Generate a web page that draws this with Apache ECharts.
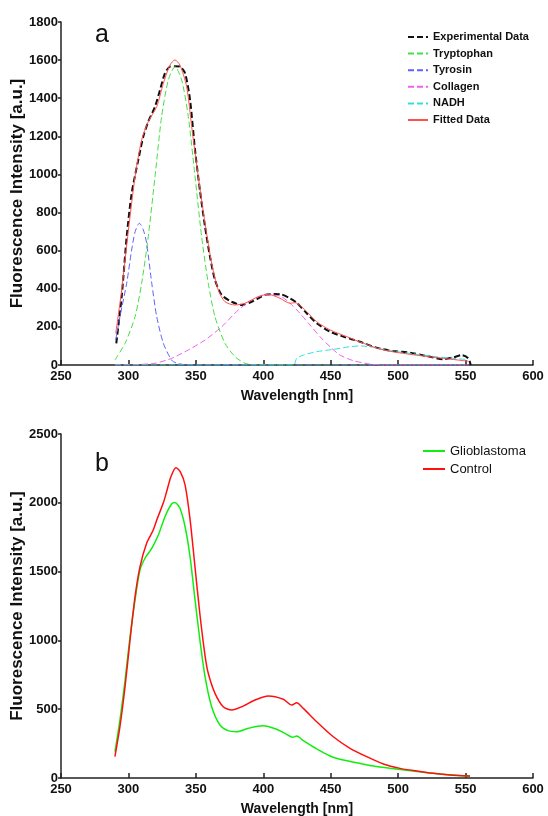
<!DOCTYPE html>
<html>
<head>
<meta charset="utf-8">
<script src="https://cdn.jsdelivr.net/npm/echarts@6/dist/echarts.min.js"></script>
<style>
  html, body { margin: 0; padding: 0; background: #ffffff; }
  #chart { width: 548px; height: 816px; }
</style>
</head>
<body>
<div id="chart"></div>
<script>
// Axis ticks
const wavelengthTicks = [250, 300, 350, 400, 450, 500, 550, 600];
const intensityTicksA = [0, 200, 400, 600, 800, 1000, 1200, 1400, 1600, 1800];
const intensityTicksB = [0, 500, 1000, 1500, 2000, 2500];

// Panel a: measured emission spectrum
const expWl  = [291, 295, 298.7, 302.4, 307.3, 311, 314.7, 319.7, 323.4, 327.1, 330.8, 334.5, 338.2, 342, 345.7, 349.4, 353, 356.8, 360.5, 364.2, 369.2, 376.6, 384, 391.4, 401.3, 408, 413, 419.8, 424.8, 432.2, 439.6, 449.5, 459.3, 471.7, 484, 496.4, 508.8, 521.2, 533.5, 540.9, 547.1, 552, 553.8];
const expVal = [114, 358, 673, 901, 1076, 1198, 1277, 1356, 1443, 1531, 1566, 1568, 1566, 1531, 1391, 1128, 918, 726, 568, 446, 367, 332, 315, 332, 368, 372, 371, 350, 327, 271, 219, 175, 149, 122, 91, 73, 65, 47, 30, 40, 52, 35, 0];

// Panel a: fitted fluorophore components
const trpWl  = [290, 297.5, 304.9, 309.8, 314.7, 319.7, 324.6, 329.6, 334.5, 339.5, 344.4, 349.4, 354.3, 359.2, 364.2, 371.6, 379, 386.4, 395, 420, 460, 500, 552];
const trpVal = [26, 114, 253, 429, 673, 988, 1303, 1496, 1566, 1496, 1303, 988, 673, 429, 253, 114, 44, 9, 0, 0, 0, 0, 0];

const tyrWl  = [290.5, 293.7, 298.7, 302.4, 305, 308.1, 311, 313.5, 317.3, 321, 325.9, 332, 336, 345, 400, 552];
const tyrVal = [130, 253, 429, 604, 700, 744, 710, 639, 429, 253, 114, 26, 9, 0, 0, 0];

const colWl  = [290, 305, 319.7, 332, 344.4, 356.8, 369.2, 381.5, 391.4, 401.3, 412.4, 419.8, 427.2, 434.6, 442, 449.5, 456.9, 466.7, 479, 490, 552];
const colVal = [0, 2, 9, 35, 79, 131, 201, 289, 341, 367, 362, 324, 271, 210, 149, 96, 52, 23, 5, 0, 0];

const nadhWl  = [290, 422.3, 424.8, 429.7, 439.6, 451.9, 464.3, 471.7, 481.6, 489, 496.4, 510, 530, 552];
const nadhVal = [0, 0, 35, 52, 70, 82, 96, 100, 93, 82, 73, 60, 42, 28];

// Panel a: sum of the fitted components
const fitWl  = [290.6, 295, 300, 304.9, 309.8, 314.7, 321, 325.9, 330.8, 334.5, 338.2, 343.2, 346.9, 351.8, 356.8, 361.7, 366.6, 371.6, 379, 386.4, 396.3, 403.7, 412.4, 419.8, 423.5, 432.2, 439.6, 449.5, 461.8, 474.2, 489, 503.8, 518.7, 533.5, 548.3, 552];
const fitVal = [166, 394, 708, 988, 1181, 1277, 1356, 1478, 1574, 1601, 1574, 1460, 1251, 988, 744, 534, 394, 332, 315, 324, 359, 371, 350, 324, 327, 280, 227, 184, 149, 114, 79, 61, 47, 35, 23, 20];

// Panel b: mean spectra of tumour and control tissue
const gbmWl  = [290, 293.7, 297.5, 301.2, 304.9, 308.6, 312.3, 317.3, 322.2, 327.1, 332, 334.5, 338.2, 342, 345.7, 349.4, 353, 356.8, 361.7, 367.9, 374, 380.3, 388.9, 399.5, 409.9, 417.3, 421.8, 424.8, 429.7, 439.6, 449.5, 456.9, 469.3, 481.6, 494, 506.3, 518.7, 531, 543.4, 553.3];
const gbmVal = [191, 421, 712, 1027, 1294, 1512, 1597, 1669, 1766, 1899, 1991, 2003, 1960, 1826, 1608, 1294, 1003, 736, 518, 385, 344, 337, 361, 379, 354, 317, 296, 305, 271, 211, 160, 136, 111, 87, 70, 56, 41, 29, 20, 12];

const ctrlWl  = [290, 293.7, 297.5, 301.2, 304.9, 308.6, 313.5, 318.4, 321, 325.9, 328.3, 331.5, 335.3, 338.5, 342, 345.7, 349.4, 353, 356.8, 359.2, 364.2, 370.3, 376.6, 384, 393.9, 403.7, 414.8, 421.1, 424.8, 429.7, 439.6, 451.9, 464.3, 476.7, 489, 501.4, 513.7, 526.1, 538.4, 553.3];
const ctrlVal = [155, 373, 663, 1003, 1318, 1536, 1706, 1802, 1875, 2000, 2080, 2190, 2255, 2225, 2130, 1880, 1530, 1190, 890, 761, 615, 518, 494, 518, 567, 596, 572, 530, 547, 506, 409, 300, 216, 155, 102, 70, 51, 34, 22, 15];

const FONT = '"Liberation Sans", Arial, Helvetica, sans-serif';
const INK = '#111111';
const AXIS = '#222222';

const pairs = (xs, ys) => xs.map((x, i) => [x, ys[i]]);
const plain = (v) => String(v);

function xAxisFor(gridIndex) {
  return {
    type: 'value', gridIndex,
    min: wavelengthTicks[0], max: wavelengthTicks[wavelengthTicks.length - 1],
    interval: wavelengthTicks[1] - wavelengthTicks[0],
    name: 'Wavelength [nm]', nameLocation: 'middle', nameGap: 24, nameMoveOverlap: false,
    nameTextStyle: { fontFamily: FONT, fontSize: 14, fontWeight: 'bold', color: INK },
    axisLine: { show: true, onZero: false, lineStyle: { color: AXIS, width: 1.5 } },
    axisTick: { show: true, inside: true, length: 5, lineStyle: { color: AXIS, width: 1.5 } },
    axisLabel: { margin: 5, fontFamily: FONT, fontSize: 13, fontWeight: 'bold', color: INK, formatter: plain },
    splitLine: { show: false }
  };
}

function yAxisFor(gridIndex, ticks) {
  return {
    type: 'value', gridIndex,
    min: ticks[0], max: ticks[ticks.length - 1], interval: ticks[1] - ticks[0],
    name: 'Fluorescence Intensity [a.u.]', nameLocation: 'middle', nameGap: 35, nameMoveOverlap: false,
    nameTextStyle: { fontFamily: FONT, fontSize: 17, fontWeight: 'bold', color: INK },
    axisLine: { show: true, onZero: false, lineStyle: { color: AXIS, width: 1.5 } },
    axisTick: { show: true, inside: false, length: 3, lineStyle: { color: AXIS, width: 1.5 } },
    axisLabel: { margin: 3, fontFamily: FONT, fontSize: 13, fontWeight: 'bold', color: INK, formatter: plain },
    splitLine: { show: false }
  };
}

function line(name, xs, ys, panel, color, width, dashed) {
  return {
    name, type: 'line', xAxisIndex: panel, yAxisIndex: panel,
    data: pairs(xs, ys), symbol: 'none', showSymbol: false, smooth: 0.25,
    lineStyle: { color, width, type: dashed ? [6, 3] : 'solid' },
    itemStyle: { color },
    emphasis: { disabled: true }, animation: false
  };
}

const chart = echarts.init(document.getElementById('chart'), null, { renderer: 'canvas' });
chart.setOption({
  backgroundColor: '#ffffff',
  animation: false,
  grid: [
    { left: 61, top: 22, width: 472, height: 343, containLabel: false, outerBoundsMode: 'none' },
    { left: 61, top: 434, width: 472, height: 344, containLabel: false, outerBoundsMode: 'none' }
  ],
  xAxis: [xAxisFor(0), xAxisFor(1)],
  yAxis: [yAxisFor(0, intensityTicksA), yAxisFor(1, intensityTicksB)],
  legend: [
    {
      data: ['Experimental Data', 'Tryptophan', 'Tyrosin', 'Collagen', 'NADH', 'Fitted Data'],
      orient: 'vertical', left: 407, top: 28.7, padding: 0,
      itemWidth: 20, itemHeight: 10, itemGap: 0,
      itemStyle: { opacity: 0 },
      textStyle: { fontFamily: FONT, fontSize: 11, fontWeight: 'bold', color: INK, lineHeight: 16.6 },
      selectedMode: false
    },
    {
      data: ['Glioblastoma', 'Control'],
      orient: 'vertical', left: 422, top: 442, padding: 0,
      itemWidth: 22, itemHeight: 10, itemGap: 0,
      itemStyle: { opacity: 0 },
      textStyle: { fontFamily: FONT, fontSize: 13, color: INK, lineHeight: 18 },
      selectedMode: false
    }
  ],
  graphic: [
    { type: 'text', left: 95, top: 23, style: { text: 'a', font: '25px ' + FONT, fill: INK } },
    { type: 'text', left: 95, top: 452, style: { text: 'b', font: '25px ' + FONT, fill: INK } }
  ],
  series: [
    line('Experimental Data', expWl, expVal, 0, '#111111', 2, true),
    line('Tryptophan', trpWl, trpVal, 0, '#44e044', 1, true),
    line('Tyrosin', tyrWl, tyrVal, 0, '#6060ff', 1, true),
    line('Collagen', colWl, colVal, 0, '#ee60ee', 1, true),
    line('NADH', nadhWl, nadhVal, 0, '#30e0e0', 1, true),
    line('Fitted Data', fitWl, fitVal, 0, '#ff5050', 1, false),
    line('Glioblastoma', gbmWl, gbmVal, 1, '#10ee10', 1.5, false),
    line('Control', ctrlWl, ctrlVal, 1, '#ff1010', 1.5, false)
  ]
});
</script>
</body>
</html>
